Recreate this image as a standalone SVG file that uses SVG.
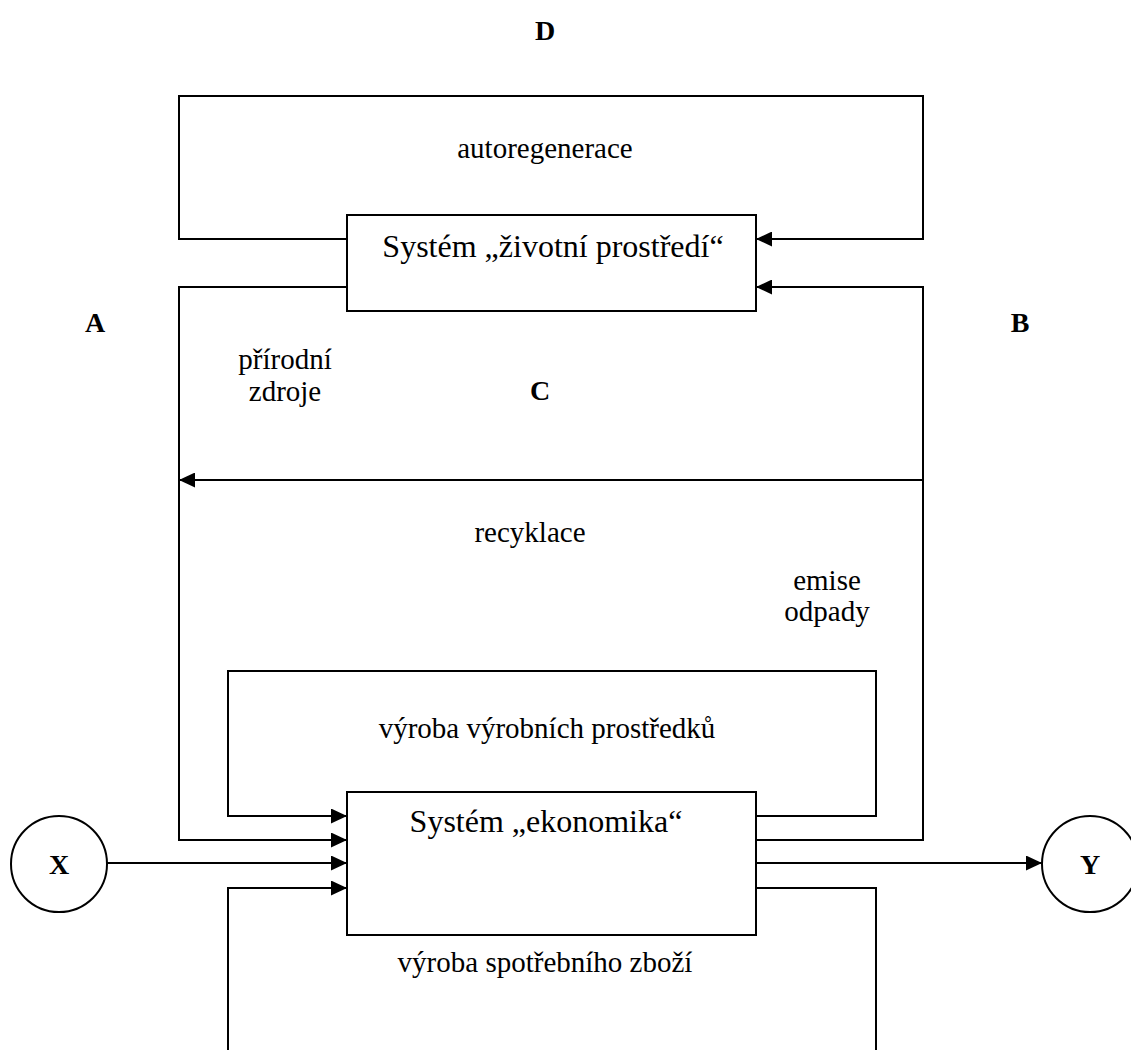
<svg xmlns="http://www.w3.org/2000/svg" width="1131" height="1050" viewBox="0 0 1131 1050">
<defs>
<style>
.ln{fill:none;stroke:#000;stroke-width:2}
.bx{fill:#fff;stroke:#000;stroke-width:2}
.t{font-family:"Liberation Serif","Times New Roman",serif;font-size:29px;fill:#000;text-anchor:middle}
.tb{font-family:"Liberation Serif","Times New Roman",serif;font-size:32px;fill:#000;text-anchor:middle}
.b{font-family:"Liberation Serif","Times New Roman",serif;font-size:28px;font-weight:bold;fill:#000;text-anchor:middle}
</style>
<marker id="ar" markerUnits="userSpaceOnUse" markerWidth="16" markerHeight="15" refX="16" refY="7.5" orient="auto">
<path d="M0,0 L16,7.5 L0,15 Z" fill="#000"/>
</marker>
</defs>
<rect width="1131" height="1050" fill="#fff"/>
<g id="connectors">
<polyline class="ln" points="347,239 179,239 179,96 923,96 923,239 756,239" marker-end="url(#ar)"/>
<polyline class="ln" points="347,287 179,287 179,840 347,840" marker-end="url(#ar)"/>
<polyline class="ln" points="756,840 923,840 923,287 756,287" marker-end="url(#ar)"/>
<line class="ln" x1="923" y1="480" x2="179" y2="480" marker-end="url(#ar)"/>
<polyline class="ln" points="756,816 876,816 876,671 228,671 228,816 347,816" marker-end="url(#ar)"/>
<line class="ln" x1="107" y1="863" x2="347" y2="863" marker-end="url(#ar)"/>
<line class="ln" x1="756" y1="863" x2="1042" y2="863" marker-end="url(#ar)"/>
<polyline class="ln" points="756,888 876,888 876,1050"/>
<polyline class="ln" points="228,1050 228,888 347,888" marker-end="url(#ar)"/>
</g>
<g id="env">
<rect class="bx" x="347" y="215" width="409" height="96"/>
<text class="tb" x="553" y="257">Systém „životní prostředí“</text>
</g>
<g id="econ">
<rect class="bx" x="347" y="792" width="409" height="143"/>
<text class="tb" x="546" y="832">Systém „ekonomika“</text>
</g>
<g id="X">
<circle class="bx" cx="59" cy="864" r="48"/>
<text class="b" x="59" y="874">X</text>
</g>
<g id="Y">
<circle class="bx" cx="1090" cy="864" r="48"/>
<text class="b" x="1090" y="874">Y</text>
</g>
<g id="labels">
<text class="b" x="545" y="40">D</text>
<text class="b" x="95" y="332">A</text>
<text class="b" x="1020" y="332">B</text>
<text class="b" x="540" y="400">C</text>
<text class="t" x="545" y="158">autoregenerace</text>
<text class="t" x="285" y="369">přírodní</text>
<text class="t" x="285" y="401">zdroje</text>
<text class="t" x="530" y="542">recyklace</text>
<text class="t" x="827" y="590">emise</text>
<text class="t" x="827" y="621">odpady</text>
<text class="t" x="547" y="738">výroba výrobních prostředků</text>
<text class="t" x="545" y="972">výroba spotřebního zboží</text>
</g>
</svg>
